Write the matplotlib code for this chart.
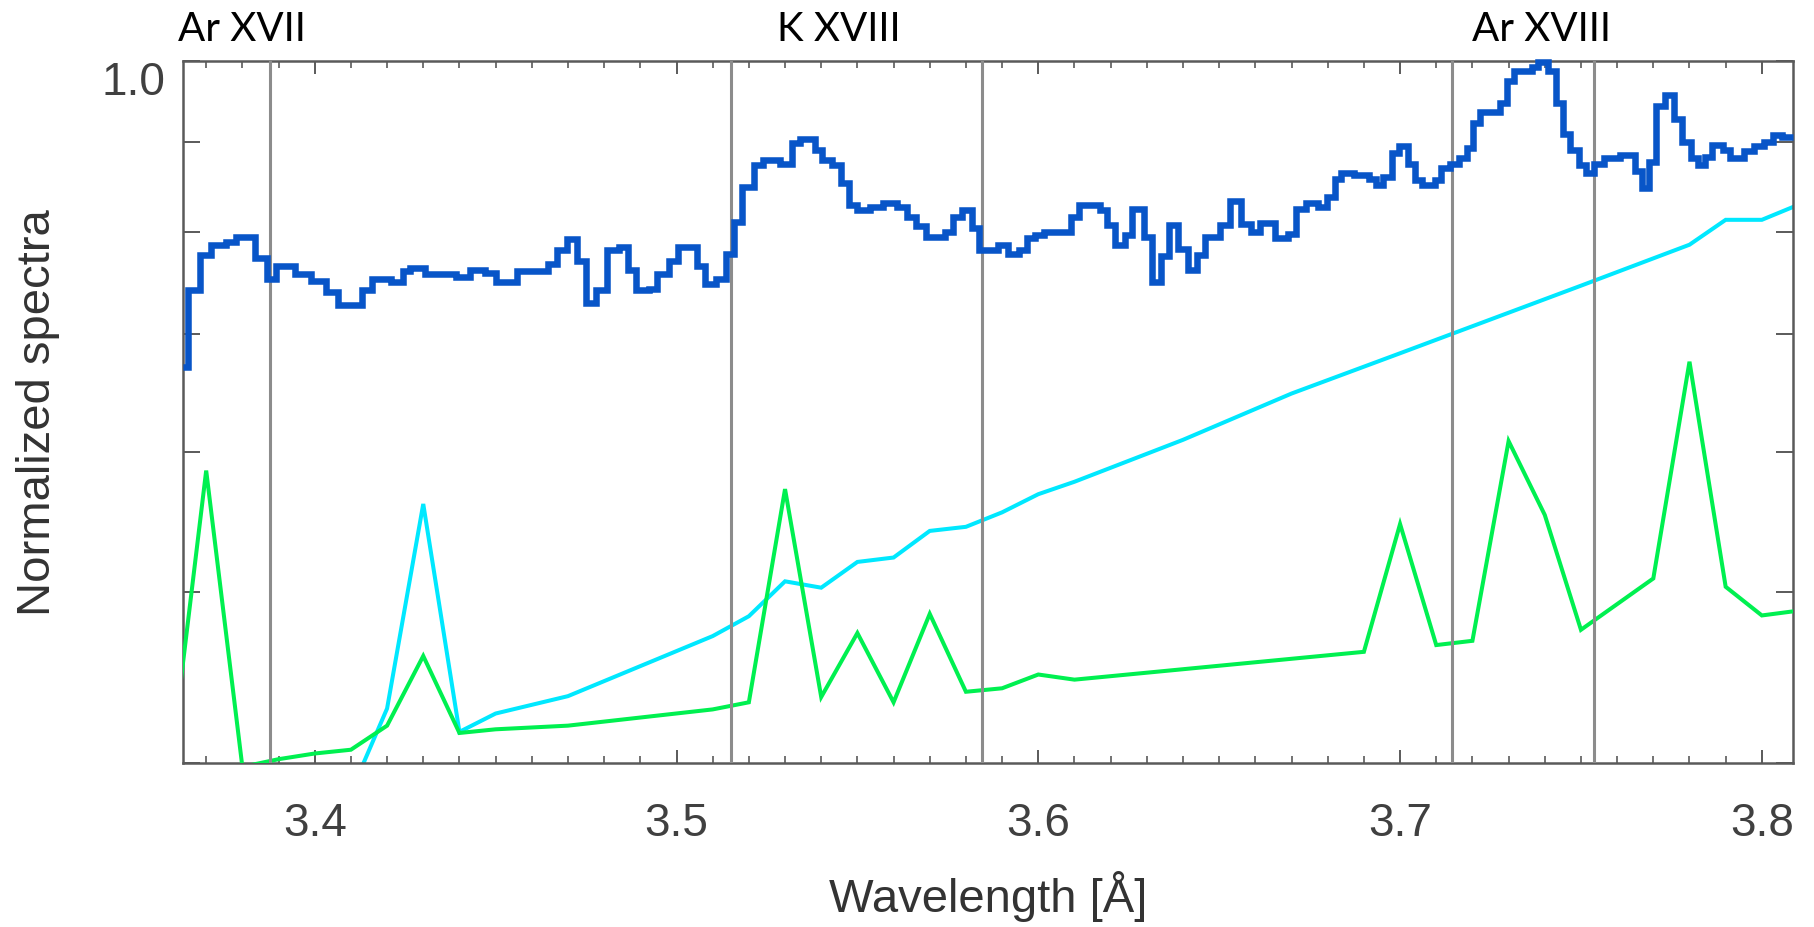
#!/usr/bin/env python3
"""
Normalized spectra around the Ar XVII / K XVIII / Ar XVIII lines.
Values were read off the reference figure.
"""

import matplotlib
matplotlib.use("Agg")
import matplotlib.pyplot as plt
import matplotlib.transforms as mtransforms
from matplotlib.ticker import MultipleLocator, FixedLocator, FixedFormatter, NullFormatter

plt.rcParams["font.family"] = ["Liberation Sans", "DejaVu Sans"]

# --------------------------------------------------------------------------- #
# Data                                                                        #
# --------------------------------------------------------------------------- #

XMIN, XMAX = 3.3636, 3.8086
YMIN, YMAX = 0.4, 1.0

# measured spectrum (histogram): left bin edges + values, last edge is XMAX
blue_left = [
    3.3636, 3.3650, 3.3682, 3.3714, 3.3756, 3.3783, 3.3835, 3.3867, 3.3894, 3.3946,
    3.3989, 3.4031, 3.4063, 3.4132, 3.4158, 3.4211, 3.4243, 3.4264, 3.4306, 3.4391,
    3.4428, 3.4470, 3.4502, 3.4560, 3.4645, 3.4671, 3.4697, 3.4724, 3.4750, 3.4777,
    3.4809, 3.4840, 3.4867, 3.4888, 3.4925, 3.4946, 3.4978, 3.5004, 3.5057, 3.5078,
    3.5110, 3.5136, 3.5158, 3.5181, 3.5213, 3.5239, 3.5287, 3.5319, 3.5340, 3.5382,
    3.5403, 3.5430, 3.5456, 3.5477, 3.5498, 3.5535, 3.5572, 3.5609, 3.5636, 3.5662,
    3.5689, 3.5742, 3.5763, 3.5789, 3.5816, 3.5837, 3.5890, 3.5916, 3.5948, 3.5969,
    3.5990, 3.6017, 3.6091, 3.6112, 3.6170, 3.6191, 3.6212, 3.6239, 3.6260, 3.6292,
    3.6313, 3.6339, 3.6361, 3.6387, 3.6413, 3.6440, 3.6461, 3.6503, 3.6530, 3.6561,
    3.6588, 3.6614, 3.6655, 3.6690, 3.6712, 3.6739, 3.6774, 3.6799, 3.6819, 3.6838,
    3.6873, 3.6913, 3.6933, 3.6953, 3.6978, 3.6998, 3.7022, 3.7042, 3.7062, 3.7097,
    3.7112, 3.7137, 3.7162, 3.7186, 3.7201, 3.7221, 3.7276, 3.7296, 3.7316, 3.7365,
    3.7380, 3.7410, 3.7430, 3.7450, 3.7470, 3.7495, 3.7515, 3.7535, 3.7564, 3.7609,
    3.7649, 3.7669, 3.7689, 3.7708, 3.7733, 3.7758, 3.7778, 3.7803, 3.7823, 3.7843,
    3.7863, 3.7892, 3.7912, 3.7952, 3.7977, 3.8007, 3.8032, 3.8057,
]
blue_flux = [
    0.671, 0.742, 0.776, 0.787, 0.790, 0.795, 0.773, 0.753, 0.765, 0.757,
    0.751, 0.740, 0.727, 0.742, 0.753, 0.750, 0.760, 0.763, 0.757, 0.755,
    0.761, 0.758, 0.750, 0.760, 0.767, 0.782, 0.793, 0.770, 0.729, 0.742,
    0.782, 0.785, 0.761, 0.742, 0.743, 0.757, 0.770, 0.785, 0.765, 0.748,
    0.753, 0.778, 0.811, 0.849, 0.873, 0.879, 0.875, 0.899, 0.904, 0.891,
    0.879, 0.873, 0.853, 0.829, 0.823, 0.827, 0.831, 0.827, 0.816, 0.806,
    0.795, 0.800, 0.816, 0.823, 0.804, 0.782, 0.787, 0.778, 0.782, 0.794,
    0.797, 0.800, 0.816, 0.829, 0.823, 0.807, 0.787, 0.797, 0.825, 0.795,
    0.750, 0.775, 0.807, 0.783, 0.761, 0.776, 0.795, 0.807, 0.833, 0.809,
    0.800, 0.810, 0.794, 0.798, 0.825, 0.831, 0.827, 0.838, 0.858, 0.864,
    0.862, 0.858, 0.851, 0.860, 0.887, 0.895, 0.875, 0.856, 0.851, 0.856,
    0.870, 0.875, 0.881, 0.893, 0.922, 0.936, 0.947, 0.974, 0.987, 0.993,
    0.999, 0.987, 0.947, 0.910, 0.891, 0.873, 0.864, 0.875, 0.881, 0.885,
    0.866, 0.847, 0.877, 0.943, 0.957, 0.928, 0.900, 0.881, 0.873, 0.883,
    0.897, 0.891, 0.881, 0.889, 0.895, 0.900, 0.908, 0.906,
]

# model curves
green_wl = [3.36, 3.37, 3.38, 3.39, 3.40, 3.41, 3.42, 3.43, 3.44, 3.45,
            3.47, 3.51, 3.52, 3.53, 3.54, 3.55, 3.56, 3.57, 3.58, 3.59,
            3.60, 3.61, 3.69, 3.70, 3.71, 3.72, 3.73, 3.74, 3.75, 3.77,
            3.78, 3.79, 3.80, 3.81]
green_flux = [0.396, 0.586, 0.398, 0.402, 0.405, 0.407, 0.420, 0.460, 0.416, 0.418,
              0.420, 0.429, 0.433, 0.572, 0.436, 0.474, 0.433, 0.486, 0.439, 0.441,
              0.449, 0.446, 0.4625, 0.5465, 0.4666, 0.4692, 0.609, 0.553, 0.476, 0.509,
              0.6755, 0.5035, 0.485, 0.488]

cyan_wl = [3.41, 3.42, 3.43, 3.44, 3.45, 3.47, 3.51, 3.52, 3.53, 3.54,
           3.55, 3.56, 3.57, 3.58, 3.59, 3.60, 3.61, 3.64, 3.67, 3.70,
           3.75, 3.78, 3.79, 3.80, 3.81]
cyan_flux = [0.385, 0.4295, 0.561, 0.4166, 0.4267, 0.4365, 0.4721, 0.4845, 0.5071, 0.5029,
             0.5201, 0.5231, 0.5416, 0.5445, 0.5549, 0.5682, 0.5775, 0.610, 0.648, 0.683,
             0.746, 0.787, 0.813, 0.813, 0.829]

# vertical markers and ion labels
line_wl = [3.3876, 3.5150, 3.5844, 3.7143, 3.7536]
ion_names = ["Ar XVII", "K XVIII", "Ar XVIII"]
ion_wl = [3.380, 3.545, 3.739]

y_minor = [0.4, 0.5, 0.6, 0.7, 0.8, 0.9]

# --------------------------------------------------------------------------- #
# Styling                                                                     #
# --------------------------------------------------------------------------- #

BLUE = "#0855c8"
GREEN = "#00f050"
CYAN = "#00e8ff"
GRAY = "#8c8c8c"
AXIS = "#5a5a5a"
TEXT = "#404040"


def main():
    fig = plt.figure(figsize=(18.14, 9.27), dpi=100)
    ax = fig.add_axes([0.1009, 0.1769, 0.8875, 0.757])

    ax.set_yscale("log")
    ax.set_xlim(XMIN, XMAX)
    ax.set_ylim(YMIN, YMAX)

    for wl in line_wl:
        ax.axvline(wl, color=GRAY, lw=2.2, zorder=4)

    ax.plot(cyan_wl, cyan_flux, color=CYAN, lw=2.9, solid_joinstyle="miter", zorder=2)
    ax.plot(green_wl, green_flux, color=GREEN, lw=2.9, solid_joinstyle="miter", zorder=3)
    ax.stairs(blue_flux, blue_left + [XMAX], baseline=None, color=BLUE, lw=4.7,
              joinstyle="miter", clip_on=False, zorder=5)

    # axes frame and ticks (IDL look: inward ticks on all four sides)
    for sp in ax.spines.values():
        sp.set_color(AXIS)
        sp.set_linewidth(1.8)

    ax.xaxis.set_major_locator(MultipleLocator(0.1))
    ax.xaxis.set_minor_locator(MultipleLocator(0.01))
    ax.yaxis.set_major_locator(FixedLocator([1.0]))
    ax.yaxis.set_major_formatter(FixedFormatter(["1.0"]))
    ax.yaxis.set_minor_locator(FixedLocator(y_minor))
    ax.yaxis.set_minor_formatter(NullFormatter())

    ax.tick_params(axis="x", which="major", direction="in", length=9.5, width=1.4,
                   color=AXIS, top=True, bottom=True, labelsize=33,
                   labelcolor=TEXT, pad=28)
    ax.tick_params(axis="x", which="minor", direction="in", length=5, width=1.2,
                   color=AXIS, top=True, bottom=True)
    ax.tick_params(axis="y", which="both", direction="in", length=12, width=1.4,
                   color=AXIS, left=True, right=True, labelsize=33,
                   labelcolor=TEXT, pad=13)
    for lbl in ax.get_yticklabels():
        lbl.set_verticalalignment("top")

    ax.set_xlabel("Wavelength [Å]", fontsize=34, color="#333333")
    ax.xaxis.set_label_coords(0.5, -0.154)
    ax.set_ylabel("Normalized spectra", fontsize=34, color="#333333")
    ax.yaxis.set_label_coords(-0.0764, 0.5)

    trans = mtransforms.blended_transform_factory(ax.transData, ax.transAxes)
    for name, wl in zip(ion_names, ion_wl):
        ax.text(wl, 1.029, name, transform=trans, ha="center", va="baseline",
                fontsize=29, family=["Lato", "DejaVu Sans"], color="black")

    fig.savefig("out.png", dpi=100)


if __name__ == "__main__":
    main()
